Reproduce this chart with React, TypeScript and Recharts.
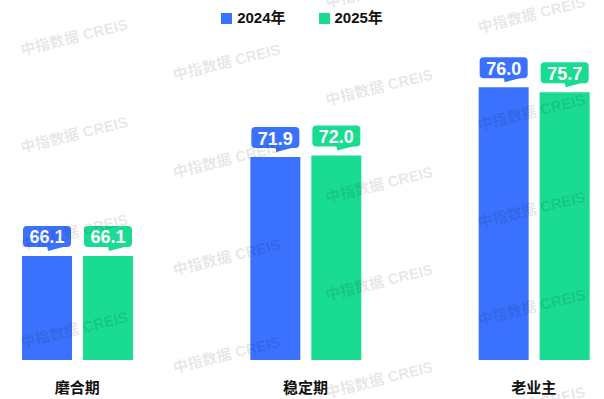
import { BarChart, Bar, XAxis, YAxis, LabelList } from 'recharts';

const categories = ['磨合期', '稳定期', '老业主'];
const series2024 = [66.1, 71.9, 76.0];
const series2025 = [66.1, 72.0, 75.7];
const seriesNames = ['2024年', '2025年'];
const seriesColors = ['#3a72ff', '#19db92'];

const data = categories.map((name, i) => ({
  name,
  y2024: series2024[i],
  y2025: series2025[i],
}));

const FONT = '"Liberation Sans", Arial, "Noto Sans CJK SC", sans-serif';

function makeLabel(color: string) {
  return (props: any) => {
    const { x, y, width, value } = props;
    const cx = x + width / 2;
    const w = 48;
    const h = 21;
    const bottom = y - 9;
    const top = bottom - h;
    return (
      <g>
        <rect x={cx - w / 2} y={top} width={w} height={h} rx={4} ry={4} fill={color} />
        <path d={`M${cx},${bottom - 1} L${cx + 1},${bottom + 4} L${cx + 20},${bottom - 1} Z`} fill={color} />
        <text
          x={cx}
          y={top + h / 2 + 1}
          textAnchor="middle"
          dominantBaseline="central"
          fill="#fff"
          fontSize={18}
          fontWeight="bold"
          fontFamily={FONT}
        >
          {Number(value).toFixed(1)}
        </text>
      </g>
    );
  };
}

const CategoryTick = (props: any) => {
  const { x, y, payload } = props;
  return (
    <text
      x={x}
      y={y + 19}
      textAnchor="middle"
      dominantBaseline="central"
      fill="#111"
      fontSize={15}
      fontWeight="bold"
      fontFamily={FONT}
    >
      {payload.value}
    </text>
  );
};

function Watermarks() {
  const marks: { x: number; y: number }[] = [];
  for (let c = 0; c < 4; c++) {
    for (let r = -1; r < 5; r++) {
      const x = 74 + c * 152.5;
      const y = 37 + c * 25 + r * 97.5;
      if (y > -20 && y < 420) marks.push({ x, y });
    }
  }
  return (
    <svg
      width={604}
      height={399}
      style={{ position: 'absolute', left: 0, top: 0, pointerEvents: 'none' }}
    >
      {marks.map((m, i) => (
        <text
          key={i}
          x={m.x}
          y={m.y}
          textAnchor="middle"
          dominantBaseline="central"
          fontSize={15}
          fontWeight="bold"
          fontFamily={FONT}
          fill="#000"
          fillOpacity={0.11}
          transform={`rotate(-14 ${m.x} ${m.y})`}
        >
          中指数据  CREIS
        </text>
      ))}
    </svg>
  );
}

export default function App() {
  return (
    <div style={{ position: 'absolute', left: 0, top: 0, width: 604, height: 399, background: '#fff', overflow: 'hidden' }}>
      <div
        style={{
          position: 'absolute',
          top: 9,
          left: 0,
          width: 604,
          display: 'flex',
          justifyContent: 'center',
          gap: 33,
          fontFamily: FONT,
          fontSize: 15,
          fontWeight: 'bold',
          color: '#111',
          lineHeight: '18px',
        }}
      >
        {seriesNames.map((s, i) => (
          <div key={s} style={{ display: 'flex', alignItems: 'center', gap: 5 }}>
            <span style={{ width: 11, height: 11, background: seriesColors[i], display: 'inline-block' }} />
            <span>{s}</span>
          </div>
        ))}
      </div>
      <BarChart
        width={604}
        height={399}
        data={data}
        margin={{ top: 19, right: -44, bottom: 0, left: -37 }}
        barSize={50}
        barGap={11}
      >
        <XAxis
          dataKey="name"
          axisLine={false}
          tickLine={false}
          height={39}
          tick={<CategoryTick />}
          interval={0}
        />
        <YAxis hide domain={[60, 80]} />
        <Bar dataKey="y2024" fill={seriesColors[0]} isAnimationActive={false}>
          <LabelList dataKey="y2024" content={makeLabel(seriesColors[0])} />
        </Bar>
        <Bar dataKey="y2025" fill={seriesColors[1]} isAnimationActive={false}>
          <LabelList dataKey="y2025" content={makeLabel(seriesColors[1])} />
        </Bar>
      </BarChart>
      <Watermarks />
    </div>
  );
}
